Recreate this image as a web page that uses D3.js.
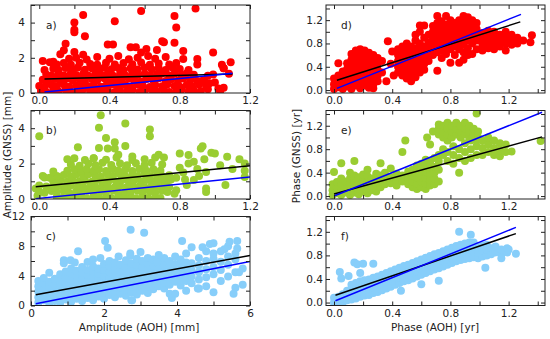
<!DOCTYPE html>
<html><head><meta charset="utf-8">
<script src="https://cdn.jsdelivr.net/npm/d3@7"></script>
<style>body{margin:0;background:#fff}svg{display:block}text{font-family:"DejaVu Sans",sans-serif}</style>
</head><body><svg id="c" width="550" height="339"></svg>
<script>
// ---- data ----
const panelNames = ["a)","b)","c)","d)","e)","f)"];
const panelColors = ["#ff0000","#9acd32","#87cefa","#ff0000","#9acd32","#87cefa"];
const xTitleLeft = "Amplitude (AOH) [mm]";
const xTitleRight = "Phase (AOH) [yr]";
const yTitleLeft = "Amplitude (GNSS) [mm]";
const yTitleRight = "Phase (GNSS) [yr]";

const ampTicks = [0,0.2,0.4,0.6,0.8,1.0,1.2];
const ampTickLabels = ["0.0","","0.4","","0.8","","1.2"];
const ampYTicks = [0,1,2,3,4,5];
const ampYTickLabels = ["0","","2","","4",""];
const cXTicks = [0,1,2,3,4,5,6];
const cXTickLabels = ["0","","2","","4","","6"];
const cYTicks = [0,2,4,6,8,10,12];
const cYTickLabels = ["0","","4","","8","","12"];
const phTicks = [0,0.2,0.4,0.6,0.8,1.0,1.2,1.4];
const phTickLabels = ["0.0","","0.4","","0.8","","1.2",""];

const aPts = [
[0.01,0.12],[0.04,0.05],[0.08,0.15],[0.11,0.08],[0.15,0.18],[0.18,0.06],[0.22,0.12],[0.25,0.2],[0.29,0.05],[0.32,0.15],[0.36,0.1],[0.39,0.2],[0.43,0.06],[0.46,0.14],[0.5,0.08],[0.53,0.18],[0.57,0.05],[0.6,0.12],[0.64,0.2],[0.67,0.07],[0.71,0.15],[0.74,0.05],[0.78,0.12],[0.81,0.2],[0.85,0.08],[0.88,0.16],[0.92,0.1],[0.96,0.22],[1.02,0.25],
[0.0,0.4],[0.03,0.35],[0.07,0.45],[0.1,0.38],[0.14,0.48],[0.17,0.36],[0.21,0.44],[0.24,0.5],[0.28,0.38],[0.31,0.46],[0.35,0.35],[0.38,0.42],[0.42,0.5],[0.45,0.37],[0.49,0.45],[0.52,0.36],[0.56,0.48],[0.59,0.4],[0.63,0.34],[0.66,0.46],[0.7,0.38],[0.73,0.5],[0.77,0.4],[0.8,0.35],[0.84,0.45],[0.87,0.38],[0.91,0.48],[0.95,0.4],[1.0,0.6],
[0.02,0.75],[0.05,0.68],[0.09,0.8],[0.12,0.7],[0.16,0.82],[0.19,0.72],[0.23,0.78],[0.26,0.66],[0.3,0.8],[0.33,0.72],[0.37,0.84],[0.4,0.7],[0.44,0.78],[0.47,0.68],[0.51,0.82],[0.54,0.74],[0.58,0.66],[0.61,0.8],[0.65,0.72],[0.68,0.84],[0.72,0.68],[0.75,0.78],[0.79,0.7],[0.82,0.82],[0.86,0.74],[0.9,0.68],[0.94,0.72],
[0.04,1.05],[0.07,0.98],[0.11,1.1],[0.14,1.0],[0.18,1.12],[0.21,1.02],[0.25,1.08],[0.28,0.98],[0.32,1.12],[0.35,1.04],[0.39,1.1],[0.42,0.98],[0.46,1.08],[0.49,1.0],[0.53,1.14],[0.56,1.02],[0.6,1.1],[0.63,0.98],[0.67,1.06],[0.7,1.12],[0.74,1.0],[0.77,1.1],[0.81,1.02],[0.84,1.12],[0.88,1.04],[0.96,0.98],
[0.03,1.3],[0.08,1.38],[0.11,1.3],[0.15,1.42],[0.19,1.34],[0.22,1.45],[0.26,1.32],[0.3,1.4],[0.34,1.3],[0.37,1.44],[0.41,1.35],[0.45,1.42],[0.48,1.3],[0.52,1.4],[0.56,1.33],[0.6,1.45],[0.64,1.35],[0.68,1.4],[0.72,1.3],[0.76,1.44],[0.8,1.36],[0.85,1.3],[1.05,1.4],
[0.06,1.75],[0.1,1.62],[0.14,1.7],[0.18,1.6],[0.23,1.72],[0.29,1.65],[0.33,1.6],[0.38,1.72],[0.43,1.62],[0.48,1.7],[0.53,1.64],[0.58,1.74],[0.63,1.6],[0.68,1.68],[0.74,1.62],[0.78,1.7],[0.9,1.62],
[0.12,2.2],[0.17,1.95],[0.21,2.0],[0.27,1.9],[0.33,2.05],[0.4,1.95],[0.45,2.1],[0.51,1.92],[0.56,2.0],[0.62,2.1],[0.66,1.95],[0.72,2.05],[0.82,1.93],[0.9,1.93],
[0.25,4.43],[0.2,4.0],[0.2,3.6],[0.2,3.45],[0.26,3.22],[0.43,4.07],[0.58,4.66],[0.89,4.8],[0.77,4.38],[0.78,3.72],[0.77,2.86],[0.7,2.94],[0.71,2.88],[0.39,2.75],[0.42,2.75],[0.15,2.8],[0.14,2.43],[0.25,2.18],[0.2,2.33],[0.02,1.82],[0.52,2.6],[0.55,2.6],[0.58,2.3],[0.61,2.5],[0.67,2.44],[0.82,2.38],[0.99,2.3],[1.04,1.6],[1.09,1.75],[1.05,1.4],[1.08,1.1],[1.05,0.3],[0.99,1.05],[0.93,0.7],[0.08,1.77],[1.03,0.1],[0.97,0.55]
];

const bPts = [
[0.1,0.1],[0.13,0.05],[0.17,0.15],[0.2,0.08],[0.24,0.12],[0.27,0.04],[0.31,0.15],[0.34,0.08],[0.38,0.12],[0.41,0.05],[0.45,0.15],[0.48,0.08],[0.52,0.12],[0.55,0.04],[0.59,0.14],[0.62,0.06],[0.66,0.12],[0.69,0.05],
[0.03,0.35],[0.07,0.45],[0.1,0.38],[0.14,0.45],[0.17,0.36],[0.21,0.44],[0.24,0.38],[0.28,0.48],[0.31,0.36],[0.35,0.44],[0.38,0.38],[0.42,0.48],[0.45,0.36],[0.49,0.44],[0.52,0.38],[0.56,0.46],[0.59,0.36],[0.63,0.44],[0.66,0.38],[0.7,0.46],[0.73,0.4],
[0.04,0.7],[0.08,0.65],[0.11,0.75],[0.15,0.68],[0.18,0.78],[0.22,0.7],[0.25,0.66],[0.29,0.76],[0.32,0.68],[0.36,0.78],[0.39,0.7],[0.43,0.66],[0.46,0.76],[0.5,0.68],[0.53,0.78],[0.57,0.7],[0.6,0.66],[0.64,0.76],[0.67,0.7],[0.71,0.78],[0.74,0.68],
[0.08,0.98],[0.12,1.05],[0.16,0.98],[0.19,1.08],[0.23,1.0],[0.26,1.06],[0.3,0.98],[0.33,1.08],[0.37,1.0],[0.4,1.06],[0.44,0.98],[0.47,1.08],[0.51,1.0],[0.54,1.06],[0.58,0.98],[0.61,1.08],[0.65,1.0],[0.68,1.06],[0.72,0.98],[0.75,1.1],
[0.1,1.3],[0.14,1.35],[0.18,1.28],[0.21,1.38],[0.25,1.3],[0.28,1.4],[0.32,1.32],[0.35,1.26],[0.39,1.38],[0.42,1.3],[0.46,1.4],[0.49,1.28],[0.53,1.36],[0.56,1.3],[0.6,1.4],[0.63,1.3],[0.67,1.36],[0.7,1.28],[0.74,1.34],
[0.16,1.6],[0.2,1.68],[0.24,1.58],[0.27,1.7],[0.31,1.6],[0.34,1.68],[0.38,1.58],[0.42,1.7],[0.45,1.6],[0.49,1.66],[0.53,1.58],[0.57,1.7],[0.61,1.6],[0.65,1.68],[0.69,1.6],
[0.18,1.95],[0.23,1.88],[0.28,2.0],[0.32,1.9],[0.36,2.05],[0.41,1.92],[0.46,2.0],[0.5,1.9],[0.55,2.02],[0.6,1.92],[0.64,2.05],[0.7,1.95],
[0.16,2.25],[0.2,2.3],[0.26,2.2],[0.31,2.3],[0.38,2.22],[0.44,2.35],[0.53,2.2],[0.6,2.25],[0.66,2.35],[0.71,2.35],
[0.0,3.55],[0.35,4.73],[0.34,4.02],[0.49,4.26],[0.38,3.45],[0.43,3.2],[0.49,3.0],[0.39,2.85],[0.43,2.85],[0.34,2.88],[0.22,2.93],[0.63,3.92],[0.63,3.55],[0.8,2.57],[0.85,2.48],[0.92,2.85],[0.93,2.98],[0.98,2.62],[1.0,2.57],[1.07,2.38],[1.14,2.24],[1.17,2.0],[0.94,2.25],[0.85,2.0],[0.8,1.77],[0.9,1.7],[0.95,1.53],[1.1,1.7],[1.17,1.6],[0.84,0.79],[0.95,0.6],[0.95,0.4],[1.06,0.79],[1.17,1.25],[0.88,1.07],[0.78,1.2],[0.45,2.5],[0.68,2.5],[0.53,2.4],[0.31,2.3],[0.02,1.3],[0.03,1.22],[0.06,1.2],[0.08,1.55],[0.0,0.76],[0.0,0.4],[-0.01,0.18],[-0.02,0.6],[0.82,1.5],[0.78,0.5],[0.77,0.3],[0.83,1.1],[0.91,1.3],[1.03,1.9],[0.88,2.1]
];

const cPts = [
[0.2,0.4],[0.2,1.1],[0.2,1.9],[0.2,2.6],[0.2,3.3],
[0.35,0.7],[0.35,1.4],[0.35,2.2],[0.35,3.0],[0.35,3.7],
[0.5,0.3],[0.5,1.0],[0.5,1.7],[0.5,2.5],[0.5,3.2],[0.5,4.4],
[0.65,0.6],[0.65,1.3],[0.65,2.1],[0.65,2.8],[0.65,3.6],
[0.8,0.4],[0.8,1.1],[0.8,1.9],[0.8,2.7],[0.8,3.4],[0.8,4.2],
[0.95,0.8],[0.95,1.5],[0.95,2.3],[0.95,3.1],[0.95,3.8],[0.95,4.6],
[1.1,0.5],[1.1,1.2],[1.1,2.0],[1.1,2.8],[1.1,3.5],[1.1,4.3],[1.1,5.0],
[1.25,0.9],[1.25,1.6],[1.25,2.4],[1.25,3.2],[1.25,3.9],[1.25,4.7],
[1.4,0.6],[1.4,1.3],[1.4,2.1],[1.4,2.9],[1.4,3.6],[1.4,4.4],[1.4,5.2],
[1.55,1.0],[1.55,1.8],[1.55,2.5],[1.55,3.3],[1.55,4.1],[1.55,4.8],[1.55,5.85],
[1.7,0.7],[1.7,1.5],[1.7,2.3],[1.7,3.0],[1.7,3.8],[1.7,4.6],[1.7,5.3],
[1.85,1.2],[1.85,2.0],[1.85,2.7],[1.85,3.5],[1.85,4.3],[1.85,5.0],
[2.0,0.9],[2.0,1.7],[2.0,2.5],[2.0,3.3],[2.0,4.0],[2.0,4.8],[2.0,5.6],
[2.15,1.4],[2.15,2.2],[2.15,3.0],[2.15,3.7],[2.15,4.5],[2.15,5.3],[2.15,6.0],
[2.3,1.1],[2.3,1.9],[2.3,2.7],[2.3,3.5],[2.3,4.2],[2.3,5.0],[2.3,5.8],
[2.45,1.6],[2.45,2.4],[2.45,3.2],[2.45,4.0],[2.45,4.7],[2.45,5.5],
[2.6,1.3],[2.6,2.1],[2.6,2.9],[2.6,3.7],[2.6,4.5],[2.6,5.2],[2.6,6.1],
[2.75,0.7],[2.75,1.8],[2.75,2.6],[2.75,3.4],[2.75,4.2],[2.75,5.0],[2.75,5.7],
[2.9,1.5],[2.9,2.3],[2.9,3.1],[2.9,3.9],[2.9,4.7],[2.9,5.5],[2.9,6.3],
[3.05,2.0],[3.05,2.8],[3.05,3.6],[3.05,4.4],[3.05,5.2],[3.05,6.0],
[3.2,1.7],[3.2,2.5],[3.2,3.3],[3.2,4.1],[3.2,4.9],[3.2,5.7],[3.2,6.4],
[3.35,2.2],[3.35,3.0],[3.35,3.8],[3.35,4.6],[3.35,5.4],[3.35,6.2],
[3.5,2.6],[3.5,3.4],[3.5,4.2],[3.5,5.0],[3.5,5.9],
[3.65,2.3],[3.65,3.1],[3.65,3.9],[3.65,4.7],[3.65,5.5],[3.65,6.4],
[3.8,1.6],[3.8,2.8],[3.8,3.6],[3.8,4.4],[3.8,5.2],[3.8,6.0],
[3.95,3.2],[3.95,4.0],[3.95,4.8],[3.95,5.6],[3.95,6.6],
[4.1,2.7],[4.1,3.6],[4.1,4.4],[4.1,5.3],[4.1,6.2],
[4.25,2.0],[4.25,3.3],[4.25,4.1],[4.25,5.0],[4.25,5.8],[4.25,7.0],
[4.4,3.0],[4.4,3.9],[4.4,4.8],[4.4,5.7],[4.4,7.85],
[4.6,2.3],[4.6,3.5],[4.6,4.5],[4.6,5.4],[4.6,6.4],
[4.8,2.6],[4.8,3.8],[4.8,4.9],[4.8,6.0],[4.8,7.3],
[5.0,1.8],[5.0,4.2],[5.0,5.2],[5.0,6.3],[5.0,7.0],
[5.2,3.3],[5.2,4.8],[5.2,5.9],[5.2,7.3],
[5.4,3.9],[5.4,5.5],[5.4,6.6],[5.4,8.0],
[5.6,2.4],[5.6,4.5],[5.6,6.2],[5.6,7.0],
[5.8,2.8],[5.8,5.0],
[2.73,10.2],[3.1,9.8],[2.03,8.7],[2.1,7.77],[1.29,7.32],[0.9,6.1],[0.9,5.7],[1.08,6.1],[4.14,8.7],[4.9,8.3],[4.7,7.85],[5.44,8.6],[5.3,7.6],[5.65,8.7],[5.65,7.7],[3.86,1.0],[3.95,1.6],[2.77,0.7],[4.57,2.3],[3.45,5.9],[2.72,7.0],[2.72,6.7],[1.9,6.4],[3.0,7.2],[3.5,6.8],[2.4,6.6],[1.2,5.8],[1.7,6.2],[5.55,1.6],[5.7,4.5],[5.0,8.4]
];

const dPts = [
[0.0,0.02],[0.0,0.1],[0.0,0.2],
[0.03,0.05],[0.03,0.15],[0.03,0.25],[0.03,0.46],
[0.06,0.02],[0.06,0.12],[0.06,0.22],[0.06,0.32],
[0.09,0.06],[0.09,0.16],[0.09,0.26],[0.09,0.36],[0.09,0.46],
[0.12,0.02],[0.12,0.12],[0.12,0.22],[0.12,0.32],[0.12,0.42],[0.12,0.52],[0.12,0.62],
[0.15,0.08],[0.15,0.18],[0.15,0.28],[0.15,0.38],[0.15,0.48],[0.15,0.58],[0.15,0.68],
[0.18,0.03],[0.18,0.13],[0.18,0.23],[0.18,0.33],[0.18,0.43],[0.18,0.53],[0.18,0.63],[0.18,0.7],
[0.21,0.08],[0.21,0.18],[0.21,0.28],[0.21,0.38],[0.21,0.48],[0.21,0.58],[0.21,0.68],
[0.24,0.04],[0.24,0.14],[0.24,0.24],[0.24,0.34],[0.24,0.44],[0.24,0.54],[0.24,0.64],
[0.27,0.03],[0.27,0.1],[0.27,0.2],[0.27,0.3],[0.27,0.4],[0.27,0.5],[0.27,0.6],
[0.3,0.15],[0.3,0.25],[0.3,0.35],[0.3,0.45],[0.3,0.55],
[0.33,0.3],[0.33,0.5],
[0.37,0.84],[0.4,0.66],[0.41,0.25],[0.39,0.45],[0.36,0.15],
[0.44,0.3],[0.44,0.4],[0.44,0.5],[0.44,0.6],[0.44,0.7],
[0.47,0.25],[0.47,0.35],[0.47,0.45],[0.47,0.55],[0.47,0.65],[0.47,0.75],
[0.5,0.2],[0.5,0.3],[0.5,0.4],[0.5,0.5],[0.5,0.6],[0.5,0.7],[0.5,0.8],
[0.53,0.15],[0.53,0.25],[0.53,0.35],[0.53,0.45],[0.53,0.55],[0.53,0.65],[0.53,0.75],
[0.56,0.22],[0.56,0.32],[0.56,0.42],[0.56,0.52],[0.56,0.62],[0.56,0.72],[0.56,0.85],[0.56,0.95],
[0.59,0.3],[0.59,0.4],[0.59,0.5],[0.59,0.6],[0.59,0.7],[0.59,0.8],[0.59,1.0],[0.59,1.11],
[0.62,0.35],[0.62,0.45],[0.62,0.55],[0.62,0.65],[0.62,0.75],[0.62,0.9],[0.62,1.11],
[0.65,0.5],[0.65,0.62],[0.65,0.72],[0.65,0.82],[0.65,0.95],
[0.68,0.6],[0.68,0.7],[0.68,0.8],[0.68,0.9],[0.68,1.0],[0.68,1.1],
[0.71,0.33],[0.71,0.65],[0.71,0.75],[0.71,0.85],[0.71,0.95],[0.71,1.05],[0.71,1.15],[0.71,1.27],
[0.74,0.55],[0.74,0.68],[0.74,0.78],[0.74,0.88],[0.74,0.98],[0.74,1.08],[0.74,1.18],
[0.77,0.62],[0.77,0.72],[0.77,0.82],[0.77,0.92],[0.77,1.02],[0.77,1.12],[0.77,1.27],
[0.8,0.47],[0.8,0.7],[0.8,0.8],[0.8,0.9],[0.8,1.0],[0.8,1.1],[0.8,1.2],
[0.83,0.6],[0.83,0.75],[0.83,0.85],[0.83,0.95],[0.83,1.05],[0.83,1.15],
[0.86,0.47],[0.86,0.7],[0.86,0.8],[0.86,0.9],[0.86,1.0],[0.86,1.1],[0.86,1.2],
[0.89,0.52],[0.89,0.65],[0.89,0.78],[0.89,0.88],[0.89,0.98],[0.89,1.08],[0.89,1.18],[0.89,1.27],
[0.92,0.6],[0.92,0.72],[0.92,0.85],[0.92,0.95],[0.92,1.05],[0.92,1.15],[0.92,1.25],
[0.95,0.62],[0.95,0.8],[0.95,0.9],[0.95,1.0],[0.95,1.1],[0.95,1.2],
[0.98,0.7],[0.98,0.85],[0.98,0.95],[0.98,1.05],[0.98,1.15],
[1.02,0.68],[1.02,0.78],[1.02,0.88],[1.02,0.98],
[1.06,0.72],[1.06,0.82],[1.06,0.92],[1.06,1.02],
[1.1,0.7],[1.1,0.8],[1.1,0.9],[1.1,1.0],
[1.14,0.75],[1.14,0.85],[1.14,0.95],
[1.18,0.68],[1.18,0.8],[1.18,0.9],[1.18,1.0],
[1.22,0.78],[1.22,0.88],[1.22,0.95],
[1.26,0.8],[1.26,0.9],[1.3,0.85],[1.35,0.82],[1.36,0.94]
];

const ePts = [
[-0.01,0.02],[-0.01,0.1],[-0.01,0.2],[0.0,0.41],
[0.02,0.05],[0.02,0.14],[0.02,0.24],
[0.05,0.02],[0.05,0.1],[0.05,0.2],[0.05,0.3],[0.05,0.56],
[0.08,0.06],[0.08,0.15],[0.08,0.25],
[0.11,0.02],[0.11,0.1],[0.11,0.2],[0.11,0.3],[0.11,0.4],
[0.14,0.06],[0.14,0.15],[0.14,0.25],[0.14,0.35],[0.14,0.6],
[0.17,0.03],[0.17,0.12],[0.17,0.22],[0.17,0.32],
[0.2,0.08],[0.2,0.17],[0.2,0.27],[0.2,0.37],
[0.23,0.05],[0.23,0.14],[0.23,0.24],[0.23,0.34],[0.23,0.45],
[0.26,0.1],[0.26,0.2],[0.26,0.3],
[0.29,0.08],[0.29,0.18],[0.29,0.28],[0.29,0.38],
[0.32,0.15],[0.32,0.25],[0.32,0.35],[0.32,0.56],
[0.35,0.2],[0.35,0.3],[0.35,0.4],
[0.39,0.22],[0.39,0.32],[0.39,0.47],
[0.43,0.18],[0.43,0.28],[0.43,0.38],
[0.47,0.25],[0.47,0.35],[0.47,0.75],[0.49,0.95],
[0.51,0.2],[0.51,0.3],[0.51,0.42],
[0.54,0.15],[0.54,0.25],[0.54,0.35],[0.54,0.45],
[0.57,0.12],[0.57,0.22],[0.57,0.32],[0.57,0.42],[0.57,0.52],
[0.6,0.15],[0.6,0.25],[0.6,0.35],[0.6,0.45],[0.6,0.55],
[0.63,0.12],[0.63,0.22],[0.63,0.32],[0.63,0.42],[0.63,0.52],[0.63,0.62],
[0.66,0.18],[0.66,0.28],[0.66,0.38],[0.66,0.48],[0.66,0.58],[0.66,0.88],
[0.69,0.2],[0.69,0.3],[0.69,0.4],[0.69,0.5],[0.69,0.65],[0.68,1.1],[0.64,1.0],
[0.72,0.25],[0.72,0.45],[0.72,0.6],[0.72,0.7],
[0.72,1.05],[0.72,1.15],[0.72,1.22],
[0.75,1.0],[0.75,1.1],[0.75,1.2],
[0.78,0.95],[0.78,1.05],[0.78,1.15],[0.78,1.25],
[0.81,1.0],[0.81,1.1],[0.81,1.2],
[0.84,1.05],[0.84,1.15],[0.84,1.25],
[0.87,1.0],[0.87,1.1],[0.87,1.2],
[0.9,1.05],[0.9,1.15],[0.9,1.25],
[0.93,1.0],[0.93,1.1],[0.93,1.2],
[0.96,1.05],[0.96,1.15],
[0.99,1.0],[0.99,1.1],[0.98,1.41],
[0.75,0.7],[0.75,0.8],[0.78,0.6],[0.78,0.75],
[0.82,0.55],[0.82,0.7],[0.82,0.85],
[0.86,0.4],[0.86,0.65],[0.86,0.8],
[0.9,0.6],[0.9,0.75],[0.9,0.9],
[0.94,0.65],[0.94,0.8],[0.94,0.95],
[0.98,0.7],[0.98,0.85],[0.98,0.95],
[1.02,0.7],[1.02,0.82],[1.02,0.95],
[1.06,0.75],[1.06,0.88],[1.06,1.0],
[1.1,0.7],[1.1,0.82],[1.1,0.95],
[1.14,0.68],[1.14,0.78],[1.14,0.9],
[1.18,0.75],[1.18,0.88],[1.22,0.76],[1.42,0.94]
];

const fPts = [
[0.0,0.0],[0.0,0.08],
[0.03,0.02],[0.03,0.1],
[0.06,0.0],[0.06,0.06],[0.06,0.14],
[0.09,0.04],[0.09,0.12],[0.09,0.2],
[0.12,0.05],[0.12,0.14],[0.12,0.22],[0.12,0.3],
[0.15,0.07],[0.15,0.16],[0.15,0.25],[0.15,0.33],
[0.18,0.1],[0.18,0.19],[0.18,0.28],[0.18,0.36],
[0.21,0.12],[0.21,0.21],[0.21,0.3],[0.21,0.38],
[0.24,0.13],[0.24,0.22],[0.24,0.31],[0.24,0.39],
[0.27,0.16],[0.27,0.25],[0.27,0.34],[0.27,0.42],
[0.3,0.18],[0.3,0.27],[0.3,0.36],[0.3,0.44],
[0.33,0.21],[0.33,0.3],[0.33,0.39],[0.33,0.47],
[0.36,0.24],[0.36,0.33],[0.36,0.42],[0.36,0.5],
[0.39,0.27],[0.39,0.36],[0.39,0.45],[0.39,0.53],
[0.42,0.3],[0.42,0.39],[0.42,0.48],[0.42,0.56],
[0.45,0.33],[0.45,0.42],[0.45,0.51],[0.45,0.59],
[0.48,0.36],[0.48,0.45],[0.48,0.54],[0.48,0.62],
[0.51,0.38],[0.51,0.47],[0.51,0.56],[0.51,0.64],
[0.54,0.41],[0.54,0.5],[0.54,0.59],[0.54,0.67],
[0.57,0.44],[0.57,0.53],[0.57,0.62],[0.57,0.7],
[0.6,0.47],[0.6,0.56],[0.6,0.65],[0.6,0.73],
[0.63,0.5],[0.63,0.59],[0.63,0.68],[0.63,0.76],
[0.66,0.53],[0.66,0.62],[0.66,0.71],[0.66,0.79],
[0.69,0.56],[0.69,0.65],[0.69,0.74],[0.69,0.82],
[0.72,0.58],[0.72,0.67],[0.72,0.76],[0.72,0.84],
[0.75,0.61],[0.75,0.7],[0.75,0.79],[0.75,0.87],
[0.78,0.64],[0.78,0.73],[0.78,0.82],[0.78,0.9],
[0.81,0.67],[0.81,0.76],[0.81,0.85],[0.81,0.93],
[0.84,0.7],[0.84,0.79],[0.84,0.88],[0.84,0.96],
[0.87,0.72],[0.87,0.81],[0.87,0.9],[0.87,0.98],
[0.9,0.74],[0.9,0.83],[0.9,0.92],[0.9,1.0],
[0.93,0.75],[0.93,0.84],[0.93,0.93],[0.93,1.02],
[0.96,0.77],[0.96,0.86],[0.96,0.95],[0.96,1.02],
[0.99,0.75],[0.99,0.85],[0.99,0.95],
[1.02,0.78],[1.02,0.88],[1.02,0.97],
[1.05,0.8],[1.05,0.9],[1.05,0.98],
[1.08,0.82],[1.08,0.92],
[1.11,0.85],[1.11,0.95],
[1.15,0.82],[1.15,0.9],[1.19,0.85],[1.19,0.92],[1.25,0.83],
[0.04,0.52],[0.05,0.41],[0.14,0.68],[0.16,0.65],[0.2,0.66],[0.27,0.66],[0.46,0.2],[0.6,0.31],[0.72,0.37],[0.86,1.2],[1.04,0.59],[1.15,0.75],[1.2,0.9],[0.94,1.15],[0.18,0.5],[0.1,0.45]
];

// fit lines: [start, end] per panel
const blackFits = [
[[0.03,0.8],[1.1,1.08]], [[-0.02,0.69],[1.2,1.88]], [[0.13,1.45],[6.0,6.74]],
[[0.02,0.17],[1.28,1.17]], [[0.0,0.034],[1.43,1.01]], [[0.01,0.124],[1.25,1.17]]
];
const blueFits = [
[[0.03,0.05],[1.1,1.12]], [[-0.02,0.02],[1.2,1.24]], [[0.13,0.23],[6.0,5.93]],
[[0.02,0.03],[1.285,1.3]], [[0.0,0.0],[1.43,1.43]], [[0.01,0.03],[1.25,1.275]]
];

// ---- layout ----
const svg = d3.select("#c");
const colX = [[31,250],[326,545]];
const rowY = [[93,5],[199,110.5],[305.5,216.5]];
const allPts = [aPts,bPts,cPts,dPts,ePts,fPts];
const cfg = [
 {xd:[-0.047,1.2], yd:[0,5], xt:ampTicks, xl:ampTickLabels, yt:ampYTicks, yl:ampYTickLabels, col:0,row:0},
 {xd:[-0.047,1.2], yd:[0,5], xt:ampTicks, xl:ampTickLabels, yt:ampYTicks, yl:ampYTickLabels, col:0,row:1},
 {xd:[0,6], yd:[0,12], xt:cXTicks, xl:cXTickLabels, yt:cYTicks, yl:cYTickLabels, col:0,row:2},
 {xd:[-0.055,1.45], yd:[-0.05,1.46], xt:phTicks, xl:phTickLabels, yt:phTicks, yl:phTickLabels, col:1,row:0},
 {xd:[-0.055,1.45], yd:[-0.05,1.46], xt:phTicks, xl:phTickLabels, yt:phTicks, yl:phTickLabels, col:1,row:1},
 {xd:[-0.055,1.45], yd:[-0.05,1.46], xt:phTicks, xl:phTickLabels, yt:phTicks, yl:phTickLabels, col:1,row:2}
];
const ink = "#222";

cfg.forEach((c,i)=>{
  const xr = colX[c.col], yr = rowY[c.row];
  const x = d3.scaleLinear().domain(c.xd).range(xr);
  const y = d3.scaleLinear().domain(c.yd).range(yr);
  const g = svg.append("g");
  const cid = "clip"+i;
  svg.append("clipPath").attr("id",cid).append("rect")
    .attr("x",xr[0]).attr("y",yr[1]).attr("width",xr[1]-xr[0]).attr("height",yr[0]-yr[1]);
  const pg = g.append("g").attr("clip-path",`url(#${cid})`);
  pg.selectAll("circle").data(allPts[i]).join("circle")
    .attr("cx",d=>x(d[0])).attr("cy",d=>y(d[1])).attr("r",4).attr("fill",panelColors[i]);
  const line = d3.line().x(d=>x(d[0])).y(d=>y(d[1]));
  pg.append("path").attr("d",line(blackFits[i])).attr("stroke","#000").attr("stroke-width",1.5).attr("fill","none");
  pg.append("path").attr("d",line(blueFits[i])).attr("stroke","#0000ff").attr("stroke-width",1.5).attr("fill","none");
  g.append("rect").attr("x",xr[0]).attr("y",yr[1]).attr("width",xr[1]-xr[0]).attr("height",yr[0]-yr[1])
    .attr("fill","none").attr("stroke",ink).attr("stroke-width",1);
  const fmt = (labels,ticks)=> (d)=>labels[ticks.indexOf(d)];
  const bottom = d3.axisBottom(x).tickValues(c.xt).tickSize(-4).tickPadding(4).tickFormat(fmt(c.xl,c.xt));
  const top = d3.axisTop(x).tickValues(c.xt).tickSize(-4).tickFormat("");
  const left = d3.axisLeft(y).tickValues(c.yt).tickSize(-4).tickPadding(c.col===0?6:3).tickFormat(fmt(c.yl,c.yt));
  const right = d3.axisRight(y).tickValues(c.yt).tickSize(-4).tickFormat("");
  const style = sel=>{ sel.select(".domain").remove(); sel.selectAll("line").attr("stroke",ink);
    sel.selectAll("text").attr("fill",ink).style("font-size","10.5px").style("font-family","DejaVu Sans"); };
  g.append("g").attr("transform",`translate(0,${yr[0]})`).call(bottom).call(style);
  g.append("g").attr("transform",`translate(0,${yr[1]})`).call(top).call(style);
  g.append("g").attr("transform",`translate(${xr[0]},0)`).call(left).call(style);
  g.append("g").attr("transform",`translate(${xr[1]},0)`).call(right).call(style);
  g.append("text").attr("x",xr[0]+15).attr("y",yr[1]+23.5).text(panelNames[i])
    .attr("fill",ink).style("font-size","10.5px");
});

svg.append("text").attr("x",139).attr("y",331).attr("text-anchor","middle").attr("fill",ink)
  .style("font-size","10.5px").text(xTitleLeft);
svg.append("text").attr("x",435).attr("y",331).attr("text-anchor","middle").attr("fill",ink)
  .style("font-size","10.5px").text(xTitleRight);
svg.append("text").attr("transform","translate(11,155) rotate(-90)").attr("text-anchor","middle").attr("fill",ink)
  .style("font-size","10.5px").text(yTitleLeft);
svg.append("text").attr("transform","translate(300,156) rotate(-90)").attr("text-anchor","middle").attr("fill",ink)
  .style("font-size","10.5px").text(yTitleRight);
</script>
</body></html>
